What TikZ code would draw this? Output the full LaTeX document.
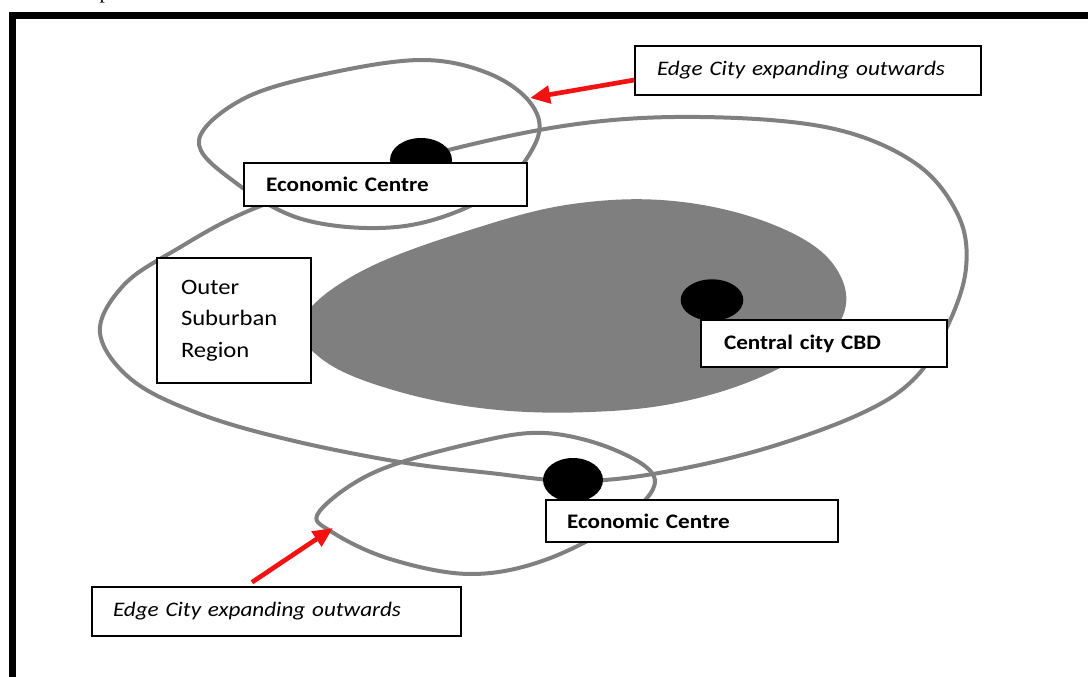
\documentclass[tikz,border=0pt]{standalone}
\usepackage{fontspec}
\setmainfont{Carlito}[FakeStretch=1.12]
\newfontfamily\fragfont{Liberation Serif}
\usetikzlibrary{arrows.meta,shapes.geometric,calc}
\definecolor{loopgray}{HTML}{808080}
\definecolor{coregray}{HTML}{7F7F7F}
\definecolor{arrowred}{HTML}{F21212}

\begin{document}
\begin{tikzpicture}[x=0.75pt,y=-0.75pt,
  loopline/.style={draw=loopgray,line width=3pt},
  labelbox/.style={draw=black,line width=1.1pt,fill=white,inner ysep=0pt,
    align=left,font=\fontsize{15.5}{18}\selectfont},
  hubdot/.style={ellipse,fill=black,inner sep=0pt},
  growth/.style={draw=arrowred,line width=3.5pt,
    -{Triangle[length=15pt,width=13pt]}}
]
\useasboundingbox (0,0) rectangle (1088,677);
\fill[white] (0,0) rectangle (1088,677);

% page frame and the clipped letter above it
\node[font=\fragfont\fontsize{16}{16}\selectfont,anchor=base,inner sep=0pt] (frag) at (105,-1.5) {p};
\draw[line width=5.25pt,line join=miter] (12,700) -- (12,15.5) -- (1100,15.5);

% outer suburban region
\draw[loopline] plot[smooth cycle,tension=0.6] coordinates {
  (100,333) (122,287) (172,252) (263,205) (421,157) (570,125) (700,117)
  (830,128) (915,163) (958,215) (966,268) (948,325) (915,378) (860,414)
  (760,450) (653,474) (572,481) (490,473) (400,462) (290,440) (200,414)
  (132,380)};

% central city
\fill[coregray] plot[smooth cycle,tension=0.65] coordinates {
  (302,320) (360,272) (470,230) (580,203) (690,203) (790,232)
  (840,275) (838,325) (780,368) (690,400) (590,412) (480,408)
  (380,386) (318,356)};

% edge city loops
\draw[loopline] plot[smooth cycle,tension=0.6] coordinates {
  (199,140) (245,98) (330,73) (423,60) (490,74) (532,105) (536,142)
  (492,194) (405,226) (305,220) (232,180)};
\draw[loopline] plot[smooth cycle,tension=0.6] coordinates {
  (319,512) (375,472) (473,443) (545,433) (615,450) (655,480)
  (622,520) (545,560) (470,574) (390,559) (332,532)};

% centres
\node[hubdot,minimum width=46.5pt,minimum height=33pt] (hubTop) at (421,160) {};
\node[hubdot,minimum width=47pt,minimum height=31pt] (hubCBD) at (712,300) {};
\node[hubdot,minimum width=45pt,minimum height=33pt] (hubBot) at (573,480) {};

% labels
\node[labelbox,minimum width=259.5pt,minimum height=36.75pt,text width=226.5pt,
  inner xsep=16.5pt,font=\fontsize{15.5}{18}\selectfont\itshape] (edgeTop) at (808,70.5)
  {Edge City expanding outwards};
\node[labelbox,minimum width=212.25pt,minimum height=32.25pt,text width=179.25pt,
  inner xsep=16.5pt,font=\fontsize{15.5}{18}\selectfont\bfseries] (econTop) at (385.5,184.5)
  {Economic Centre};
\node[labelbox,minimum width=115.5pt,minimum height=93.75pt,text width=79.5pt,
  inner xsep=18pt,font=\fontsize{16.5}{23.6}\selectfont] (outer) at (234,320.5)
  {Outer\\Suburban\\Region};
\node[labelbox,minimum width=184.5pt,minimum height=35.25pt,text width=150pt,
  inner xsep=17.25pt,font=\fontsize{15.5}{18}\selectfont\bfseries] (cbd) at (824,343.5)
  {Central city CBD};
\node[labelbox,minimum width=219pt,minimum height=31.5pt,text width=187.5pt,
  inner xsep=15.75pt,font=\fontsize{15.5}{18}\selectfont\bfseries] (econBot) at (692,521)
  {Economic Centre};
\node[labelbox,minimum width=276.75pt,minimum height=36.75pt,text width=245.25pt,
  inner xsep=15.75pt,font=\fontsize{15.5}{18}\selectfont\itshape] (edgeBot) at (276.5,611.5)
  {Edge City expanding outwards};

% growth arrows
\coordinate (tipTop) at (530,98);
\coordinate (tipBot) at (333,528);
\draw[growth] ($(edgeTop.west)+(0,9.5)$) -- (tipTop);
\draw[growth] ($(edgeBot.north)+(-24.5,-4)$) -- (tipBot);
\end{tikzpicture}
\end{document}
